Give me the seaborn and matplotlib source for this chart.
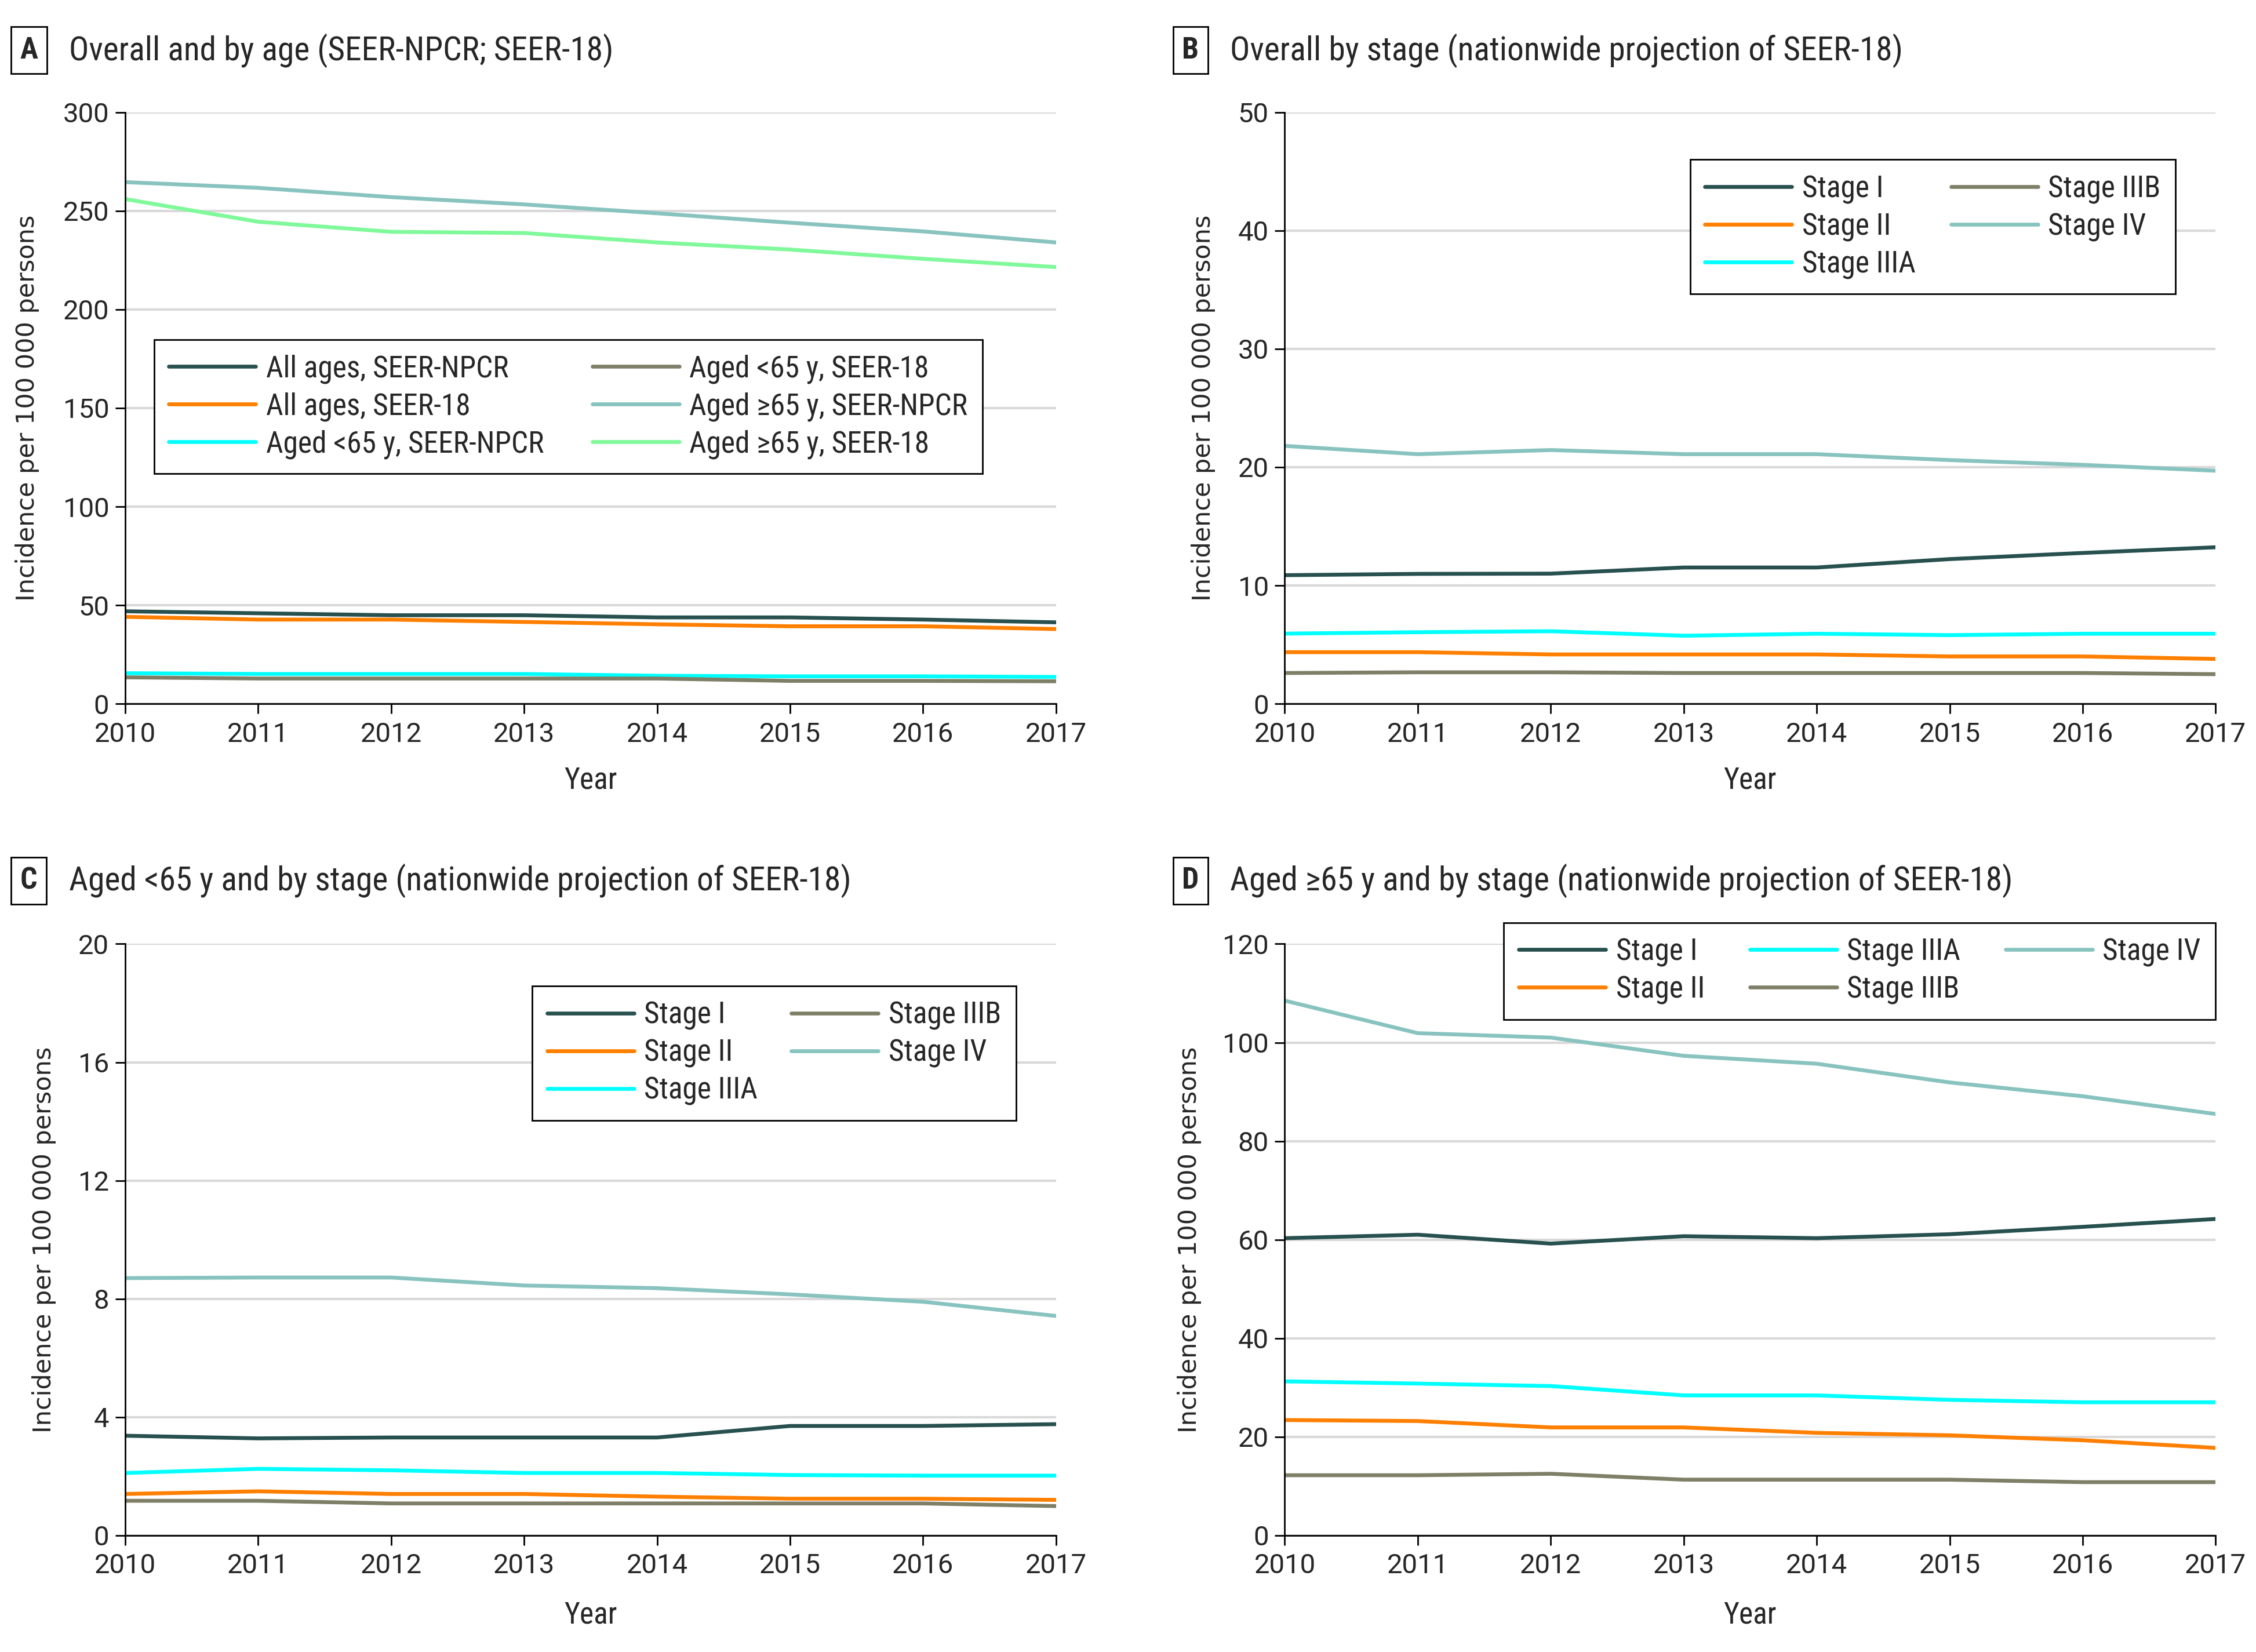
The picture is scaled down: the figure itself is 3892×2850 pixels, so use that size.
import os
import matplotlib
matplotlib.use("Agg")
import matplotlib.pyplot as plt
from matplotlib.font_manager import fontManager, FontProperties
from matplotlib.textpath import TextPath
import pandas as pd
import seaborn as sns

years = list(range(2010, 2018))

# Panel A: overall and by age
a_labels = [
    "All ages, SEER-NPCR",
    "All ages, SEER-18",
    "Aged <65 y, SEER-NPCR",
    "Aged <65 y, SEER-18",
    "Aged ≥65 y, SEER-NPCR",
    "Aged ≥65 y, SEER-18",
]
a_all_npcr = [46.9, 45.9, 44.9, 44.9, 43.8, 43.8, 42.7, 41.3]
a_all_s18 = [44.1, 42.7, 42.7, 41.5, 40.3, 39.3, 39.3, 37.9]
a_lt65_npcr = [15.5, 15.1, 15.1, 15.1, 14.2, 13.9, 13.9, 13.6]
a_lt65_s18 = [13.4, 12.8, 12.8, 12.8, 12.8, 11.6, 11.6, 11.4]
a_ge65_npcr = [264.6, 261.7, 257.0, 253.3, 248.8, 244.0, 239.6, 234.0]
a_ge65_s18 = [256.0, 244.5, 239.4, 238.8, 234.0, 230.4, 225.7, 221.5]

stage_labels = ["Stage I", "Stage II", "Stage IIIA", "Stage IIIB", "Stage IV"]

# Panel B: overall by stage
b_stage1 = [10.87, 10.98, 11.0, 11.52, 11.52, 12.23, 12.75, 13.23]
b_stage2 = [4.36, 4.36, 4.17, 4.17, 4.17, 4.0, 4.0, 3.79]
b_stage3a = [5.93, 6.05, 6.13, 5.75, 5.92, 5.8, 5.92, 5.92]
b_stage3b = [2.6, 2.66, 2.66, 2.6, 2.6, 2.6, 2.6, 2.5]
b_stage4 = [21.8, 21.1, 21.45, 21.1, 21.1, 20.6, 20.2, 19.7]

# Panel C: aged <65 y by stage
c_stage1 = [3.37, 3.28, 3.31, 3.31, 3.31, 3.70, 3.70, 3.76]
c_stage2 = [1.40, 1.49, 1.40, 1.40, 1.31, 1.24, 1.24, 1.20]
c_stage3a = [2.11, 2.25, 2.20, 2.11, 2.11, 2.04, 2.02, 2.02]
c_stage3b = [1.17, 1.17, 1.08, 1.08, 1.08, 1.08, 1.08, 0.99]
c_stage4 = [8.70, 8.72, 8.72, 8.45, 8.36, 8.15, 7.90, 7.42]

# Panel D: aged >=65 y by stage
d_stage1 = [60.3, 61.0, 59.2, 60.7, 60.3, 61.1, 62.6, 64.2]
d_stage2 = [23.4, 23.2, 21.9, 21.9, 20.8, 20.3, 19.3, 17.75]
d_stage3a = [31.25, 30.8, 30.3, 28.4, 28.4, 27.5, 27.0, 27.0]
d_stage3b = [12.2, 12.2, 12.5, 11.3, 11.3, 11.3, 10.8, 10.8]
d_stage4 = [108.5, 101.9, 101.0, 97.3, 95.7, 91.9, 89.1, 85.5]

dark = "#27504e"
orange = "#ff7f00"
cyan = "#00ffff"
olive = "#7f7f68"
teal = "#88c3bf"
green = "#7ff99a"

a_colors = [dark, orange, cyan, olive, teal, green]
stage_colors = [dark, orange, cyan, olive, teal]

sns.set_theme(style="white")
plt.rcParams["font.family"] = ["Roboto", "DejaVu Sans"]


# look for a condensed face for titles and legends (the original uses one)
def find_condensed(bold=False):
    prefs = ["noto sans", "roboto", "open sans", "liberation sans", "dejavu sans"]
    best = None
    for f in fontManager.ttflist:
        base = os.path.basename(f.fname).lower()
        tag = (f.name + " " + base).lower()
        if not ("condensed" in tag or "narrow" in tag or f.stretch == "condensed"):
            continue
        if any(k in tag for k in ["semi", "extra", "ultra", "italic", "oblique", "mono"]):
            continue
        w = f.weight if isinstance(f.weight, int) else {"normal": 400, "regular": 400, "bold": 700}.get(str(f.weight).lower(), 500)
        if bold and w != 700:
            continue
        if not bold and w != 400:
            continue
        rank = next((i for i, p in enumerate(prefs) if tag.startswith(p) or p.replace(" ", "") in base), 9)
        if best is None or rank < best[0]:
            best = (rank, f.fname)
    if best is None:
        return FontProperties(family="Roboto", weight="bold" if bold else "normal")
    return FontProperties(fname=best[1])


cond = find_condensed()
cond_bold = find_condensed(bold=True)


def fit_size(text, target_pt, fp):
    w = TextPath((0, 0), text, size=10, prop=fp).get_extents().width
    return 10 * target_pt / w


TITLE_FS = fit_size("Overall and by age (SEER-NPCR; SEER-18)", 336, cond)
LEG_FS = fit_size("All ages, SEER-NPCR", 150, cond)
TICK_FS = 17
LW = 2.4

leg_prop = cond.copy()
leg_prop.set_size(LEG_FS)
title_prop = cond.copy()
title_prop.set_size(TITLE_FS)
letter_prop = cond_bold.copy()
letter_prop.set_size(TITLE_FS * 0.9)


def long_frame(labels, series):
    rows = []
    for lab, vals in zip(labels, series):
        for yr, v in zip(years, vals):
            rows.append({"Year": yr, "value": v, "series": lab})
    return pd.DataFrame(rows)


def draw_panel(ax, labels, series, colors, ymax, ystep, ncol, anchor, loc, colsp,
               ylab_x, xlab_y):
    df = long_frame(labels, series)
    sns.lineplot(
        data=df, x="Year", y="value", hue="series", hue_order=labels,
        palette=dict(zip(labels, colors)), linewidth=LW, ax=ax, legend=False,
    )
    ax.set_xlim(2010, 2017)
    ax.set_ylim(0, ymax)
    ax.set_xticks(years)
    ax.set_yticks(range(0, ymax + 1, ystep))
    ax.yaxis.grid(True, color="#d9d9d9", linewidth=1.5)
    ax.set_axisbelow(True)
    for side in ["top", "right"]:
        ax.spines[side].set_visible(False)
    for side in ["left", "bottom"]:
        ax.spines[side].set_color("black")
        ax.spines[side].set_linewidth(1.0)
    ax.tick_params(axis="both", direction="out", length=6, width=1.0, color="black",
                   labelsize=TICK_FS, bottom=True, left=True)
    ax.tick_params(axis="x", pad=5)
    ax.tick_params(axis="y", pad=4)
    ax.set_xlabel("Year", fontproperties=leg_prop)
    ax.set_ylabel("Incidence per 100 000 persons", fontsize=15.5, family="DejaVu Sans")
    ax.yaxis.set_label_coords(ylab_x, 0.5)
    ax.xaxis.set_label_coords(0.5, xlab_y)
    handles = [plt.Line2D([], [], color=c, linewidth=LW) for c in colors]
    leg = ax.legend(handles, labels, prop=leg_prop, ncol=ncol, loc=loc,
                    bbox_to_anchor=anchor, borderaxespad=0, frameon=True,
                    fancybox=False, edgecolor="black",
                    handlelength=54 / LEG_FS, handletextpad=6.3 / LEG_FS,
                    borderpad=0.5, labelspacing=max(0.1, 27.4 / LEG_FS - 1.2),
                    columnspacing=colsp / LEG_FS)
    leg.get_frame().set_linewidth(1.0)
    leg.get_frame().set_alpha(1)


fig = plt.figure(figsize=(19.46, 14.25), dpi=200)
axA = fig.add_axes([0.0555, 0.574, 0.4126, 0.358])
axB = fig.add_axes([0.5695, 0.574, 0.4126, 0.358])
axC = fig.add_axes([0.0555, 0.0706, 0.4126, 0.358])
axD = fig.add_axes([0.5695, 0.0706, 0.4126, 0.358])

draw_panel(axA, a_labels,
           [a_all_npcr, a_all_s18, a_lt65_npcr, a_lt65_s18, a_ge65_npcr, a_ge65_s18],
           a_colors, 300, 50, 2, (0.031, 0.616), "upper left", 30,
           -0.092, -0.105)
draw_panel(axB, stage_labels,
           [b_stage1, b_stage2, b_stage3a, b_stage3b, b_stage4],
           stage_colors, 50, 10, 2, (0.957, 0.92), "upper right", 22,
           -0.0745, -0.105)
draw_panel(axC, stage_labels,
           [c_stage1, c_stage2, c_stage3a, c_stage3b, c_stage4],
           stage_colors, 20, 4, 2, (0.957, 0.929), "upper right", 21,
           -0.074, -0.11)
draw_panel(axD, stage_labels,
           [d_stage1, d_stage2, d_stage3a, d_stage3b, d_stage4],
           stage_colors, 120, 20, 3, (1.0, 1.036), "upper right", 28,
           -0.0895, -0.11)

panel_titles = [
    ("A", "Overall and by age (SEER-NPCR; SEER-18)", 0.0128, 0.0306, 0.9695),
    ("B", "Overall by stage (nationwide projection of SEER-18)", 0.5277, 0.5453, 0.9695),
    ("C", "Aged <65 y and by stage (nationwide projection of SEER-18)", 0.0128, 0.0306, 0.4669),
    ("D", "Aged ≥65 y and by stage (nationwide projection of SEER-18)", 0.5277, 0.5453, 0.4669),
]
for letter, title, lx, tx, ty in panel_titles:
    fig.text(lx, ty, letter, ha="center", va="center", fontproperties=letter_prop,
             bbox=dict(boxstyle="square,pad=0.3", fc="white", ec="black", lw=1.0))
    fig.text(tx, ty, title, ha="left", va="center", fontproperties=title_prop)

fig.savefig("out.png", dpi=200, facecolor="white")
